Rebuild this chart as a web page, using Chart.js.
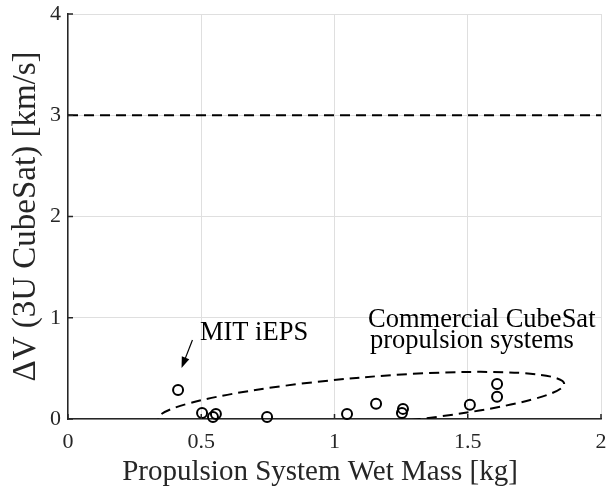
<!DOCTYPE html>
<html>
<head>
<meta charset="utf-8">
<script src="https://cdn.jsdelivr.net/npm/chart.js@4.4.1/dist/chart.umd.min.js"></script>
<style>
  html, body { margin: 0; padding: 0; background: #fff; }
</style>
</head>
<body>
<canvas id="chart" width="610" height="493"></canvas>
<script>
// valeurs
var wetMass = [0.413, 0.503, 0.544, 0.555, 0.747, 1.047, 1.156, 1.253, 1.257, 1.508, 1.61, 1.61];
var deltaV  = [0.286, 0.06, 0.02, 0.05, 0.02, 0.05, 0.15, 0.06, 0.10, 0.14, 0.345, 0.22];
var targetX = [0, 2];
var targetDV = [3, 3];
var xTicks = [0, 0.5, 1, 1.5, 2];
var yTicks = [0, 1, 2, 3, 4];

// zone "commercial" : centre + deux demi-diametres conjugues (unites des axes)
var ellipseCenter = [1.10, 0.175];
var ellipseU = [0.762, 0.171];
var ellipseV = [0, 0.235];

// annotations (coordonnees des axes)
var iepsText = ['MIT iEPS'];
var iepsPos = [0.495, 0.78];
var iepsArrow = [[0.467, 0.78], [0.426, 0.504]];
var commercialText = ['Commercial CubeSat', 'propulsion systems'];
var commercialPos = [[1.126, 0.909], [1.133, 0.70]];

var SERIF = "'Liberation Serif', 'DejaVu Serif', serif";
var AXIS_COLOR = '#262626';

var annotations = {
    id: 'annotations',
    beforeDatasetsDraw: function (chart) {
        var c = chart.ctx, xs = chart.scales.x, ys = chart.scales.y, a = chart.chartArea;
        var kx = xs.getPixelForValue(1) - xs.getPixelForValue(0);
        var ky = ys.getPixelForValue(0) - ys.getPixelForValue(1);
        c.save();
        c.beginPath();
        c.rect(a.left, a.top, a.right - a.left, a.bottom - a.top);
        c.clip();
        c.save();
        c.transform(kx * ellipseU[0], -ky * ellipseU[1], kx * ellipseV[0], -ky * ellipseV[1],
            xs.getPixelForValue(ellipseCenter[0]), ys.getPixelForValue(ellipseCenter[1]));
        c.beginPath();
        c.arc(0, 0, 1, 0, Math.PI * 2);
        c.restore();
        c.setLineDash([10, 6]);
        c.lineWidth = 2;
        c.strokeStyle = '#000';
        c.stroke();
        c.restore();
    },
    afterDraw: function (chart) {
        var c = chart.ctx, xs = chart.scales.x, ys = chart.scales.y, a = chart.chartArea;
        c.save();
        // ticks vers l'interieur, comme matlab
        c.strokeStyle = AXIS_COLOR;
        c.lineWidth = 1.5;
        c.beginPath();
        xTicks.forEach(function (v) {
            var px = xs.getPixelForValue(v);
            c.moveTo(px, a.bottom);
            c.lineTo(px, a.bottom - 5);
        });
        yTicks.forEach(function (v) {
            var py = ys.getPixelForValue(v);
            c.moveTo(a.left, py);
            c.lineTo(a.left + 5, py);
        });
        c.stroke();

        // fleche MIT iEPS
        var x0 = xs.getPixelForValue(iepsArrow[0][0]), y0 = ys.getPixelForValue(iepsArrow[0][1]);
        var x1 = xs.getPixelForValue(iepsArrow[1][0]), y1 = ys.getPixelForValue(iepsArrow[1][1]);
        var ang = Math.atan2(y1 - y0, x1 - x0);
        c.strokeStyle = '#000';
        c.fillStyle = '#000';
        c.lineWidth = 1.2;
        c.beginPath();
        c.moveTo(x0, y0);
        c.lineTo(x1 - 6 * Math.cos(ang), y1 - 6 * Math.sin(ang));
        c.stroke();
        c.beginPath();
        c.moveTo(x1, y1);
        c.lineTo(x1 - 11 * Math.cos(ang) + 4 * Math.sin(ang), y1 - 11 * Math.sin(ang) - 4 * Math.cos(ang));
        c.lineTo(x1 - 11 * Math.cos(ang) - 4 * Math.sin(ang), y1 - 11 * Math.sin(ang) + 4 * Math.cos(ang));
        c.closePath();
        c.fill();

        c.font = '26.5px ' + SERIF;
        c.textAlign = 'left';
        c.textBaseline = 'alphabetic';
        c.fillText(iepsText[0], xs.getPixelForValue(iepsPos[0]), ys.getPixelForValue(iepsPos[1]));
        commercialText.forEach(function (t, i) {
            c.fillText(t, xs.getPixelForValue(commercialPos[i][0]), ys.getPixelForValue(commercialPos[i][1]));
        });
        c.restore();
    }
};

var ctx = document.getElementById('chart').getContext('2d');
new Chart(ctx, {
    type: 'scatter',
    data: {
        datasets: [
            {
                data: wetMass.map(function (x, i) { return {x: x, y: deltaV[i]}; }),
                pointStyle: 'circle',
                pointRadius: 5,
                pointBorderWidth: 2,
                borderColor: '#000',
                backgroundColor: 'rgba(0,0,0,0)',
                clip: false
            },
            {
                type: 'line',
                data: targetX.map(function (x, i) { return {x: x, y: targetDV[i]}; }),
                borderColor: '#000',
                borderWidth: 2,
                borderDash: [10, 6],
                pointRadius: 0,
                fill: false
            }
        ]
    },
    options: {
        responsive: false,
        animation: false,
        layout: {padding: {top: 14, right: 9, left: 0, bottom: 0}},
        plugins: {legend: {display: false}, tooltip: {enabled: false}},
        scales: {
            x: {
                type: 'linear', min: 0, max: 2,
                afterBuildTicks: function (s) { s.ticks = xTicks.map(function (v) { return {value: v}; }); },
                afterFit: function (s) { s.height = 74; s.paddingLeft = 0; s.paddingRight = 0; },
                grid: {color: '#dfdfdf', lineWidth: 1, drawTicks: false},
                border: {color: AXIS_COLOR, width: 1.5},
                ticks: {font: {family: SERIF, size: 22}, color: AXIS_COLOR, padding: 10, maxRotation: 0,
                    callback: function (v) { return String(v); }},
                title: {display: true, text: 'Propulsion System Wet Mass [kg]    ', color: AXIS_COLOR,
                    font: {family: SERIF, size: 29}, padding: {top: 3, bottom: 3}}
            },
            y: {
                type: 'linear', min: 0, max: 4,
                afterBuildTicks: function (s) { s.ticks = yTicks.map(function (v) { return {value: v}; }); },
                afterFit: function (s) { s.width = 68; s.paddingTop = 0; s.paddingBottom = 0; },
                grid: {color: '#dfdfdf', lineWidth: 1, drawTicks: false},
                border: {color: AXIS_COLOR, width: 1.5},
                ticks: {font: {family: SERIF, size: 22}, color: AXIS_COLOR, padding: 7,
                    callback: function (v) { return String(v); }},
                title: {display: true, text: 'ΔV (3U CubeSat) [km/s]', color: AXIS_COLOR,
                    font: {family: SERIF, size: 33}, padding: {top: 7, bottom: 7}}
            }
        }
    },
    plugins: [annotations]
});
</script>
</body>
</html>
